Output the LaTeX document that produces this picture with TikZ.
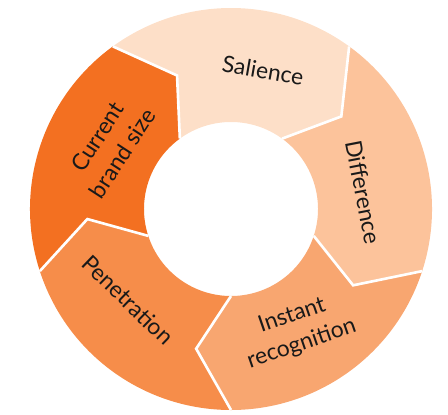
\documentclass[tikz,border=0pt]{standalone}
\usepackage{fontspec}
\setmainfont{Lato}
\definecolor{SegCurrent}{HTML}{F37021}
\definecolor{SegSalience}{HTML}{FDDFC8}
\definecolor{SegDifference}{HTML}{FCC39B}
\definecolor{SegInstant}{HTML}{F8A670}
\definecolor{SegPenetration}{HTML}{F68D4A}
\tikzset{seglabel/.style={font=\fontsize{13}{17}\selectfont,align=center,text=black!90}}

\begin{document}
\begin{tikzpicture}[x=1cm,y=1cm]
  \useasboundingbox (-4.62,-4.10) rectangle (4.34,4.18);
  \def\outR{4.02}
  \def\inR{1.74}
  \def\midR{2.88}
  % each segment runs clockwise from \a to \a-72, chevron tips 14 deg behind
  \foreach \a/\col in {198/SegCurrent, 126/SegSalience, 54/SegDifference,
                       -18/SegInstant, -90/SegPenetration}{
    \fill[\col] (\a:\outR) arc[start angle=\a, end angle=\a-72, radius=\outR]
      -- (\a-86:\midR) -- (\a-72:\inR)
      arc[start angle=\a-72, end angle=\a, radius=\inR]
      -- (\a-14:\midR) -- cycle;
  }
  \foreach \a in {198,126,54,-18,-90}{
    \draw[white,line width=1.5pt] (\a:\outR) -- (\a-14:\midR) -- (\a:\inR);
  }
  \node[seglabel,rotate=57] (current) at (-2.42,1.28) {Current\\brand size};
  \node[seglabel,rotate=-10] (salience) at (0.64,2.78) {Salience};
  \node[seglabel,rotate=-79] (difference) at (2.64,0.34) {Difference};
  \node[seglabel,rotate=19] (instant) at (1.32,-2.42) {Instant\\recognition};
  \node[seglabel,rotate=-44] (penetration) at (-2.06,-1.82) {Penetration};
\end{tikzpicture}
\end{document}
